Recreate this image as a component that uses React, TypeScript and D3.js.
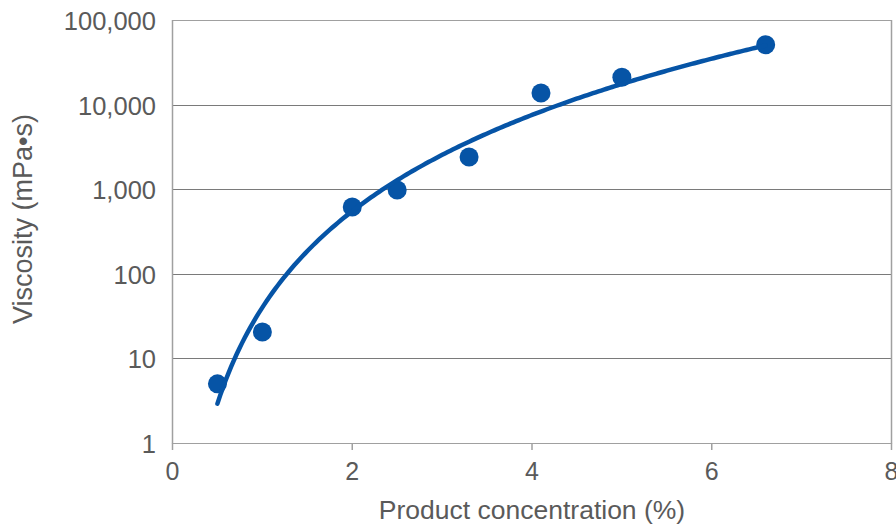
import React from "react";
import * as d3 from "d3";

const concentration: number[] = [0.5, 1, 2, 2.5, 3.3, 4.1, 5, 6.6];
const viscosity: number[] = [5, 20.5, 615, 980, 2400, 13700, 21000, 51000];
const xTicks: number[] = [0, 2, 4, 6, 8];
const yTicks: number[] = [1, 10, 100, 1000, 10000, 100000];
const xTitle = "Product concentration (%)";
const yTitle = "Viscosity (mPa•s)";

const W = 896;
const H = 525;
const L = 172.5;
const R = 891.5;
const T = 20;
const B = 443;
const BLUE = "#0654a6";
const FONT = "'Liberation Sans', Arial, Helvetica, sans-serif";
const TXT = "#5a5a5a";

export default function App() {
  const x = d3.scaleLinear().domain([0, 8]).range([L, R]);
  const y = d3.scaleLog().domain([1, 100000]).range([B, T]);

  // Least-squares power trendline fit from the data: log10(V) = a + b*ln(x)
  const lx = concentration.map((c) => Math.log(c));
  const ly = viscosity.map((v) => Math.log10(v));
  const mx = d3.mean(lx) as number;
  const my = d3.mean(ly) as number;
  let sxy = 0;
  let sxx = 0;
  lx.forEach((v, i) => {
    sxy += (v - mx) * (ly[i] - my);
    sxx += (v - mx) * (v - mx);
  });
  const b = sxy / sxx;
  const a = my - b * mx;
  const x0 = d3.min(concentration) as number;
  const x1 = d3.max(concentration) as number;
  const samples = d3.range(0, 201).map((i) => x0 + ((x1 - x0) * i) / 200);
  const fitPts: [number, number][] = samples.map((c) => [c, Math.pow(10, a + b * Math.log(c))]);
  const line = d3
    .line<[number, number]>()
    .x((d) => x(d[0]))
    .y((d) => y(d[1]))
    .curve(d3.curveLinear);

  const fmt = d3.format(",");

  return (
    <svg
      width={W}
      height={H}
      viewBox={`0 0 ${W} ${H}`}
      style={{ position: "absolute", left: 0, top: 0, display: "block", background: "#fff" }}
    >
      {/* gridlines */}
      {yTicks.map((t) => {
        const yy = Math.round(y(t)) + 0.5;
        const edge = t === 1 || t === 100000;
        return (
          <line
            key={"g" + t}
            x1={L}
            x2={R}
            y1={yy}
            y2={yy}
            stroke={edge ? "#a0a0a0" : "#7a7a7a"}
            strokeWidth={1}
          />
        );
      })}
      {/* frame left and right */}
      <line x1={L} x2={L} y1={T} y2={B + 0.5} stroke="#a0a0a0" strokeWidth={1.5} />
      <line x1={R} x2={R} y1={T} y2={B + 0.5} stroke="#a0a0a0" strokeWidth={1.5} />
      {/* x ticks */}
      {xTicks.map((t) => (
        <g key={"xt" + t}>
          <line x1={x(t)} x2={x(t)} y1={B} y2={B + 7} stroke="#a0a0a0" strokeWidth={1.5} />
          <text
            x={x(t)}
            y={480}
            textAnchor="middle"
            fontFamily={FONT}
            fontSize={25}
            fill={TXT}
          >
            {t}
          </text>
        </g>
      ))}
      {/* y tick labels */}
      {yTicks.map((t) => (
        <text
          key={"yl" + t}
          x={156}
          y={y(t) + 10}
          textAnchor="end"
          fontFamily={FONT}
          fontSize={25.5}
          fill={TXT}
        >
          {fmt(t)}
        </text>
      ))}
      {/* axis titles */}
      <text
        x={(L + R) / 2}
        y={519}
        textAnchor="middle"
        fontFamily={FONT}
        fontSize={26.5}
        fill={TXT}
      >
        {xTitle}
      </text>
      <text
        transform={`translate(32, 219) rotate(-90)`}
        textAnchor="middle"
        fontFamily={FONT}
        fontSize={27}
        fill={TXT}
      >
        {yTitle}
      </text>
      {/* points */}
      {concentration.map((c, i) => (
        <circle key={"p" + i} cx={x(c)} cy={y(viscosity[i])} r={9.5} fill={BLUE} />
      ))}
      {/* trendline */}
      <path d={line(fitPts) || ""} fill="none" stroke={BLUE} strokeWidth={4.5} strokeLinecap="round" />
    </svg>
  );
}
